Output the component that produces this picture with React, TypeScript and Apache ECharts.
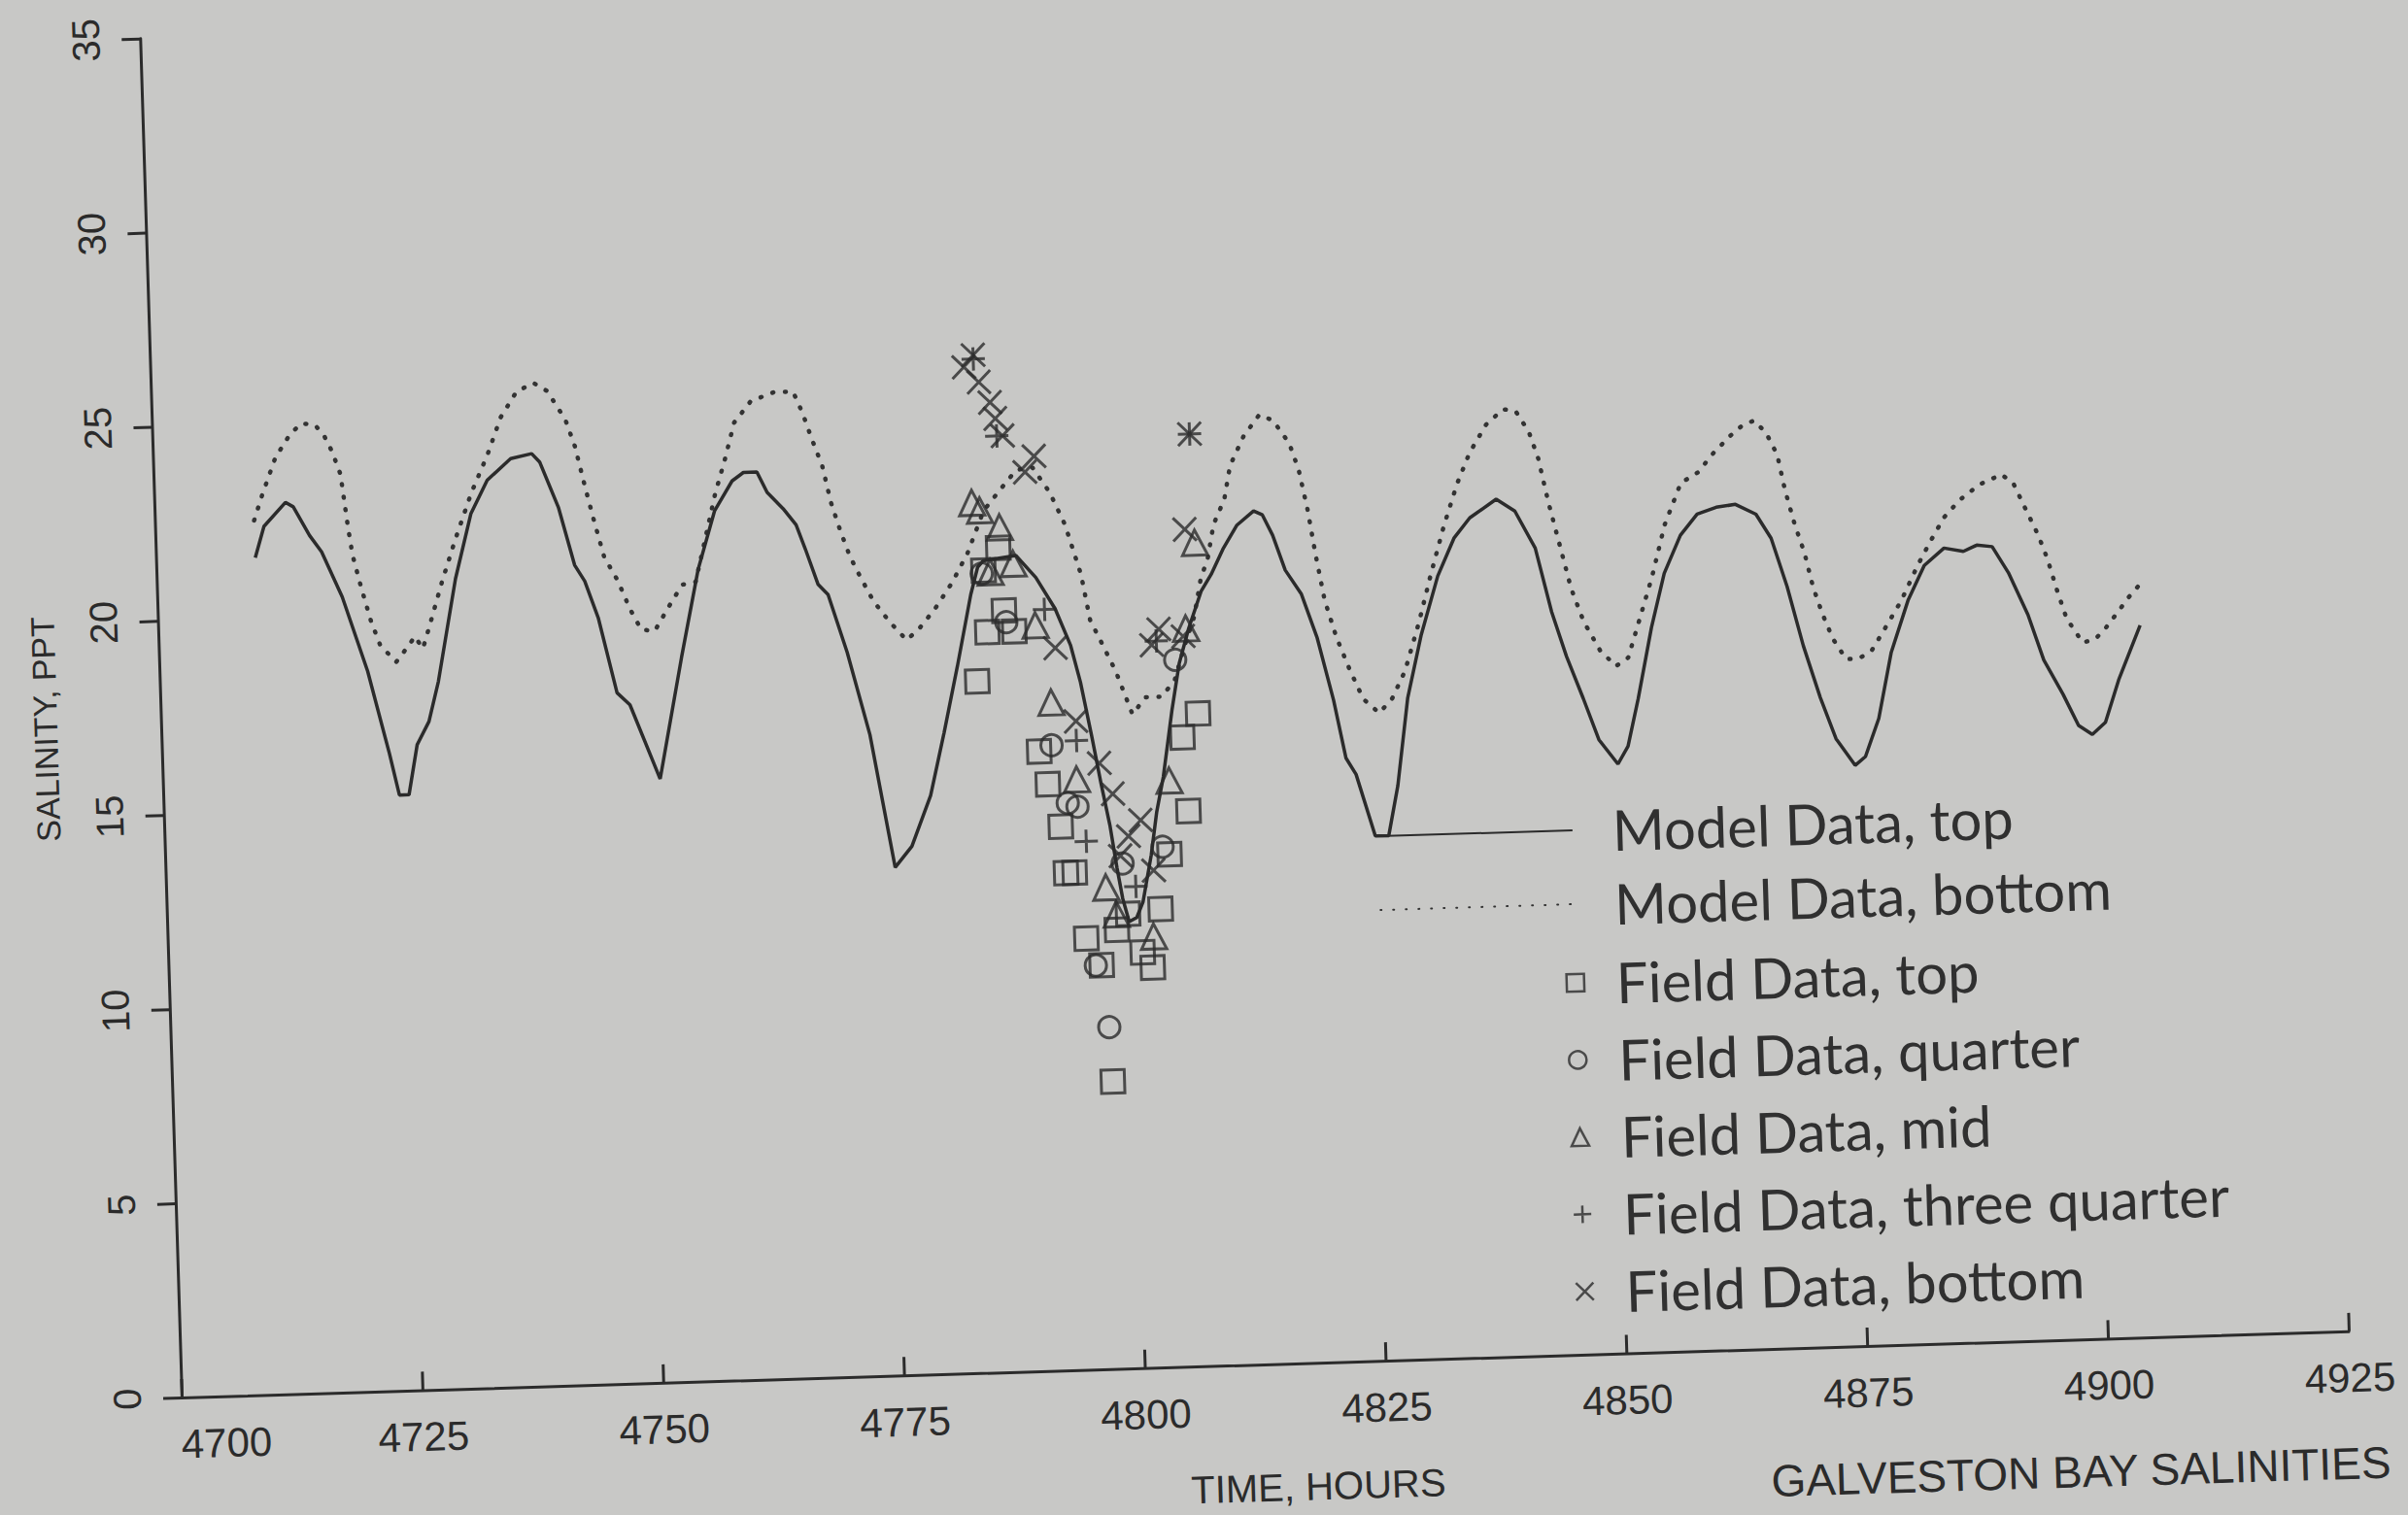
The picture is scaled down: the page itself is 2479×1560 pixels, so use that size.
import React, { useEffect, useRef } from "react";
import * as echarts from "echarts";

// ---------- data (hours, salinity ppt) ----------
const xTicks = [4700, 4725, 4750, 4775, 4800, 4825, 4850, 4875, 4900, 4925];
const yTicks = [0, 5, 10, 15, 20, 25, 30, 35];

const modelTop: [number, number][] = [
  [4710.3, 21.55], [4711.3, 22.35], [4713.6, 22.95], [4714.4, 22.83], [4716.0, 22.08], [4717.2, 21.65],
  [4719.2, 20.47], [4721.6, 18.54], [4723.6, 16.4], [4724.5, 15.33], [4725.5, 15.33], [4726.5, 16.61],
  [4727.8, 17.2], [4728.9, 18.22], [4731.0, 20.85], [4732.8, 22.51], [4734.6, 23.36], [4737.1, 23.9],
  [4739.3, 24.01], [4740.1, 23.79], [4741.9, 22.61], [4743.4, 21.11], [4744.4, 20.69], [4745.7, 19.72],
  [4747.4, 17.79], [4748.7, 17.47], [4751.6, 15.54], [4754.2, 18.65], [4756.2, 20.9], [4758.1, 22.4],
  [4760.0, 23.15], [4761.2, 23.36], [4762.6, 23.36], [4763.6, 22.83], [4765.2, 22.4], [4766.5, 21.97],
  [4767.4, 21.33], [4768.6, 20.42], [4769.6, 20.15], [4771.4, 18.65], [4773.5, 16.51], [4775.7, 13.08],
  [4777.5, 13.61], [4779.6, 14.9], [4781.2, 16.51], [4782.8, 18.22], [4784.4, 20.04], [4785.2, 20.74],
  [4785.8, 20.9], [4789.2, 21.01], [4791.2, 20.43], [4793.1, 19.61], [4794.6, 18.65], [4795.5, 17.7],
  [4796.5, 16.3], [4797.3, 15.1], [4798.1, 14.0], [4798.7, 12.9], [4799.2, 12.1], [4799.8, 11.5],
  [4800.6, 11.6], [4801.3, 12.0], [4802.3, 13.2], [4803.0, 14.3], [4803.8, 15.2], [4804.9, 16.9],
  [4805.8, 18.1], [4806.9, 19.0], [4808.3, 19.94], [4809.4, 20.37], [4810.7, 21.01], [4812.2, 21.61],
  [4814.0, 21.97], [4814.9, 21.86], [4815.9, 21.33], [4817.1, 20.42], [4818.7, 19.79], [4820.2, 18.65],
  [4821.7, 17.04], [4822.8, 15.54], [4823.8, 15.11], [4825.6, 13.51], [4827.0, 13.51], [4828.1, 14.79],
  [4829.4, 17.04], [4831.0, 18.65], [4832.9, 20.15], [4834.7, 21.11], [4836.4, 21.62], [4839.2, 22.08],
  [4841.1, 21.76], [4843.1, 20.79], [4844.6, 19.14], [4846.0, 17.98], [4847.6, 16.89], [4849.1, 15.81],
  [4851.0, 15.17], [4852.1, 15.62], [4853.3, 16.83], [4854.9, 18.65], [4856.4, 20.04], [4858.2, 21.01],
  [4860.0, 21.54], [4862.0, 21.7], [4864.0, 21.76], [4866.1, 21.49], [4867.6, 20.86], [4869.1, 19.61],
  [4870.6, 18.07], [4872.2, 16.72], [4873.7, 15.65], [4875.6, 14.95], [4876.7, 15.17], [4878.2, 16.14],
  [4879.7, 17.83], [4881.6, 19.15], [4883.4, 20.04], [4885.5, 20.47], [4887.5, 20.37], [4888.9, 20.52],
  [4890.5, 20.47], [4892.1, 19.79], [4894.0, 18.69], [4895.5, 17.51], [4897.4, 16.61], [4898.9, 15.8],
  [4900.3, 15.56], [4901.7, 15.86], [4903.2, 16.94], [4905.6, 18.33],
];

const modelBottom: [number, number][] = [
  [4710.3, 22.51], [4711.2, 23.15], [4712.7, 24.11], [4714.3, 24.7], [4715.5, 24.97], [4716.9, 24.92],
  [4717.8, 24.65], [4718.6, 24.22], [4719.4, 23.63], [4720.0, 22.29], [4720.4, 21.54], [4721.2, 20.69],
  [4722.1, 19.83], [4723.0, 19.19], [4724.6, 18.76], [4726.0, 19.19], [4726.6, 19.4], [4727.4, 19.08],
  [4728.1, 19.61], [4729.6, 20.79], [4731.1, 21.86], [4732.9, 23.04], [4734.7, 24.01], [4736.2, 24.97],
  [4737.9, 25.61], [4739.7, 25.83], [4741.1, 25.61], [4742.9, 24.86], [4743.8, 24.17], [4744.7, 23.15],
  [4745.5, 22.29], [4746.5, 21.29], [4747.8, 20.69], [4749.0, 19.94], [4750.1, 19.4], [4751.5, 19.35],
  [4753.1, 19.99], [4754.5, 20.52], [4755.9, 20.58], [4757.0, 21.65], [4758.2, 22.83], [4759.3, 23.69],
  [4760.4, 24.65], [4762.2, 25.19], [4764.6, 25.4], [4766.6, 25.4], [4767.5, 24.86], [4768.4, 24.17],
  [4769.4, 23.47], [4770.2, 22.51], [4771.1, 21.76], [4772.0, 21.11], [4773.0, 20.58], [4774.3, 19.94],
  [4775.9, 19.4], [4777.6, 18.92], [4778.9, 19.19], [4780.7, 19.72], [4782.5, 20.36], [4784.2, 21.11],
  [4786.0, 22.19], [4787.8, 22.72], [4789.5, 23.21], [4791.2, 23.26], [4792.9, 22.61], [4794.4, 21.76],
  [4795.9, 20.47], [4796.7, 19.29], [4798.0, 18.6], [4799.2, 17.95], [4800.8, 16.83], [4802.2, 17.26],
  [4803.9, 17.26], [4805.3, 17.69], [4806.4, 18.54], [4807.5, 19.29], [4808.3, 20.26], [4809.1, 20.79],
  [4809.8, 21.65], [4811.0, 22.29], [4811.7, 23.15], [4813.2, 23.9], [4814.9, 24.44], [4816.3, 24.28],
  [4817.9, 23.69], [4818.8, 23.0], [4819.6, 21.97], [4820.3, 20.79], [4821.1, 19.61], [4822.2, 18.65],
  [4823.5, 17.79], [4824.8, 17.04], [4826.4, 16.67], [4827.8, 17.04], [4829.2, 17.73], [4830.8, 18.97],
  [4832.2, 20.21], [4833.7, 21.44], [4835.2, 22.51], [4836.6, 23.3], [4838.4, 24.01], [4840.2, 24.39],
  [4841.5, 24.33], [4842.8, 23.79], [4843.7, 23.09], [4844.6, 21.97], [4845.8, 20.69], [4846.7, 19.72],
  [4847.9, 18.86], [4849.5, 18.11], [4851.1, 17.69], [4852.4, 17.9], [4853.5, 18.73], [4855.1, 19.94],
  [4856.6, 21.29], [4858.4, 22.35], [4860.2, 22.61], [4861.9, 23.1], [4863.7, 23.53], [4865.0, 23.79],
  [4866.2, 23.9], [4867.4, 23.58], [4868.5, 23.0], [4869.2, 22.08], [4870.1, 21.19], [4871.0, 20.47],
  [4871.8, 19.57], [4872.7, 18.86], [4873.7, 18.22], [4875.0, 17.69], [4876.3, 17.69], [4877.7, 17.9],
  [4879.1, 18.44], [4880.9, 19.15], [4882.7, 20.04], [4884.1, 20.65], [4885.6, 21.26], [4887.3, 21.7],
  [4889.4, 22.08], [4891.7, 22.32], [4892.9, 22.08], [4894.0, 21.46], [4895.3, 20.74], [4896.2, 20.11],
  [4897.1, 19.29], [4898.0, 18.56], [4899.6, 17.93], [4900.9, 18.01], [4902.0, 18.28], [4903.4, 18.71],
  [4904.5, 19.06], [4905.5, 19.33],
];

const fieldTop: [number, number][] = [
  [4784.8, 17.8], [4785.8, 20.65], [4786.0, 19.06], [4787.4, 21.22], [4787.8, 19.6], [4788.8, 19.06],
  [4791.0, 15.95], [4791.8, 15.1], [4793.0, 14.0], [4793.4, 12.8], [4794.3, 12.8], [4795.3, 11.1],
  [4796.8, 10.4], [4797.6, 7.4], [4798.5, 11.3], [4799.7, 11.7], [4801.1, 10.7], [4802.1, 10.3],
  [4803.1, 11.8], [4804.2, 13.2], [4806.3, 14.3], [4805.9, 16.2], [4807.6, 16.8],
];

const fieldQuarter: [number, number][] = [
  [4785.6, 20.57], [4788.0, 19.3], [4792.3, 16.1], [4793.8, 14.6], [4794.8, 14.5], [4796.2, 10.4],
  [4797.4, 8.8], [4799.3, 13.0], [4803.5, 13.4], [4805.4, 18.2],
];

const fieldMid: [number, number][] = [
  [4784.8, 22.4], [4785.6, 22.2], [4786.5, 20.6], [4787.6, 21.75], [4788.9, 20.8], [4791.0, 19.2],
  [4792.4, 17.2], [4794.8, 15.2], [4797.5, 12.4], [4798.5, 11.7], [4802.3, 11.1], [4804.4, 15.1],
  [4806.6, 19.0], [4807.8, 21.2],
];

const fieldThreeQuarter: [number, number][] = [
  [4785.4, 26.1], [4787.6, 24.1], [4792.0, 19.6], [4794.9, 16.2], [4795.6, 13.6], [4800.6, 12.4],
  [4803.5, 18.7], [4807.6, 24.0],
];

const fieldBottom: [number, number][] = [
  [4784.4, 25.9], [4785.4, 26.2], [4785.9, 25.5], [4787.0, 24.97], [4787.5, 24.55], [4788.2, 24.1],
  [4790.4, 23.15], [4791.4, 23.55], [4793.0, 18.6], [4794.9, 16.7], [4797.2, 15.6], [4798.5, 14.8],
  [4799.1, 13.2], [4800.0, 13.7], [4801.3, 14.1], [4802.5, 12.8], [4803.0, 18.6], [4803.8, 19.0],
  [4806.3, 18.8], [4806.8, 21.55], [4807.6, 24.0],
];

const seriesNames = [
  "Model Data, top",
  "Model Data, bottom",
  "Field Data, top",
  "Field Data, quarter",
  "Field Data, mid",
  "Field Data, three quarter",
  "Field Data, bottom",
];

// ---------- styling ----------
const BG = "#c8c8c6";
const INK = "#2b2b2b";
const AXIS_FONT = "'Liberation Sans', Arial, Helvetica, sans-serif";
const LEGEND_FONT = "Lato, 'Noto Sans', sans-serif";
const PLUS = "path://M5,0L5,10M0,5L10,5";
const CROSS = "path://M0,0L10,10M10,0L0,10";

// the scanned page is tilted; the whole drawing is turned by this angle
const TILT_DEG = -1.75;
const PAD = 40; // extra room around the 2479x1560 page
const W = 2640;
const H = 1700;
const ORIGIN_X = 187 + PAD; // pixel of (4700, 0)
const ORIGIN_Y = 1439 + PAD;

const hollow = { color: "transparent", borderColor: INK, borderWidth: 3 };

export default function App() {
  const ref = useRef<HTMLDivElement>(null);

  useEffect(() => {
    document.body.style.margin = "0";
    document.body.style.background = BG;
    document.documentElement.style.background = BG;
    document.body.style.overflow = "hidden";
    const chart = echarts.init(ref.current as HTMLDivElement, null, { renderer: "svg" });
    const option: any = {
      animation: false,
      backgroundColor: BG,
      grid: {
        left: ORIGIN_X,
        width: 2232,
        top: ORIGIN_Y - 1400,
        height: 1400,
        containLabel: false,
      },
      xAxis: {
        type: "value",
        min: xTicks[0],
        max: xTicks[xTicks.length - 1],
        interval: 25,
        axisLine: { show: true, onZero: false, lineStyle: { color: INK, width: 3 } },
        axisTick: { show: true, inside: true, length: 19, lineStyle: { color: INK, width: 3 } },
        axisLabel: {
          margin: 27,
          fontSize: 42,
          color: INK,
          fontFamily: AXIS_FONT,
          showMinLabel: true,
          showMaxLabel: true,
          formatter: (v: number) => (v === xTicks[0] ? "{first|" + v + "}" : String(v)),
          rich: {
            first: { padding: [0, 0, 0, 90], fontSize: 42, color: INK, fontFamily: AXIS_FONT },
          },
        },
        splitLine: { show: false },
      },
      yAxis: {
        type: "value",
        min: yTicks[0],
        max: yTicks[yTicks.length - 1],
        interval: 5,
        axisLine: { show: true, lineStyle: { color: INK, width: 3 } },
        axisTick: { show: true, inside: false, length: 19, lineStyle: { color: INK, width: 3 } },
        axisLabel: {
          rotate: 90,
          margin: 36,
          fontSize: 40,
          color: INK,
          fontFamily: AXIS_FONT,
          showMinLabel: true,
          showMaxLabel: true,
        },
        splitLine: { show: false },
      },
      legend: [
        {
          data: [seriesNames[0], seriesNames[1]],
          orient: "vertical",
          left: 1470,
          top: 898,
          itemWidth: 200,
          itemHeight: 14,
          itemGap: 4,
          selectedMode: false,
          itemStyle: { opacity: 0 },
          textStyle: {
            fontFamily: LEGEND_FONT,
            fontSize: 58,
            color: "#303030",
            lineHeight: 62,
            padding: [0, 0, 10, 36],
          },
        },
        {
          data: seriesNames.slice(2),
          orient: "vertical",
          left: 1659,
          top: 1055,
          itemWidth: 18,
          itemHeight: 18,
          itemGap: 7.5,
          selectedMode: false,
          itemStyle: { color: "transparent", borderColor: INK, borderWidth: 2.5 },
          textStyle: {
            fontFamily: LEGEND_FONT,
            fontSize: 58,
            color: "#303030",
            lineHeight: 62,
            padding: [0, 0, 10, 28],
          },
        },
      ],
      series: [
        {
          name: seriesNames[0],
          type: "line",
          data: modelTop,
          symbol: "none",
          lineStyle: { color: INK, width: 3.5 },
          itemStyle: { color: INK },
          z: 3,
        },
        {
          name: seriesNames[1],
          type: "line",
          data: modelBottom,
          symbol: "none",
          lineStyle: { color: "#333333", width: 4.5, type: [1, 12], cap: "round" },
          itemStyle: { color: "#333333" },
          z: 2,
        },
        {
          name: seriesNames[2],
          type: "scatter",
          data: fieldTop,
          symbol: "rect",
          symbolSize: 24,
          itemStyle: hollow,
          z: 4,
        },
        {
          name: seriesNames[3],
          type: "scatter",
          data: fieldQuarter,
          symbol: "circle",
          symbolSize: 22,
          itemStyle: hollow,
          z: 4,
        },
        {
          name: seriesNames[4],
          type: "scatter",
          data: fieldMid,
          symbol: "triangle",
          symbolSize: 26,
          itemStyle: hollow,
          z: 4,
        },
        {
          name: seriesNames[5],
          type: "scatter",
          data: fieldThreeQuarter,
          symbol: PLUS,
          symbolSize: 24,
          itemStyle: hollow,
          z: 4,
        },
        {
          name: seriesNames[6],
          type: "scatter",
          data: fieldBottom,
          symbol: CROSS,
          symbolSize: 24,
          itemStyle: hollow,
          z: 4,
        },
      ],
      graphic: [
        {
          type: "text",
          x: 108,
          y: 787,
          rotation: Math.PI / 2,
          style: {
            text: "SALINITY, PPT",
            fontSize: 34,
            fontFamily: AXIS_FONT,
            fill: INK,
            align: "center",
            verticalAlign: "middle",
            textAlign: "center",
            textVerticalAlign: "middle",
          },
        },
        {
          type: "text",
          x: 1394,
          y: 1606,
          style: {
            text: "TIME, HOURS",
            fontSize: 40,
            fontFamily: AXIS_FONT,
            fill: INK,
            align: "center",
            verticalAlign: "middle",
            textAlign: "center",
            textVerticalAlign: "middle",
          },
        },
        {
          type: "text",
          x: 1860,
          y: 1615,
          style: {
            text: "GALVESTON BAY SALINITIES",
            fontSize: 46,
            fontFamily: AXIS_FONT,
            fill: INK,
            align: "left",
            verticalAlign: "middle",
            textAlign: "left",
            textVerticalAlign: "middle",
          },
        },
      ],
    };
    chart.setOption(option);
    return () => chart.dispose();
  }, []);

  return (
    <div
      style={{
        position: "absolute",
        left: -PAD,
        top: -PAD,
        width: W,
        height: H,
        background: BG,
        transform: `rotate(${TILT_DEG}deg)`,
        transformOrigin: `${ORIGIN_X}px ${ORIGIN_Y}px`,
      }}
    >
      <div ref={ref} style={{ width: W, height: H }} />
    </div>
  );
}
